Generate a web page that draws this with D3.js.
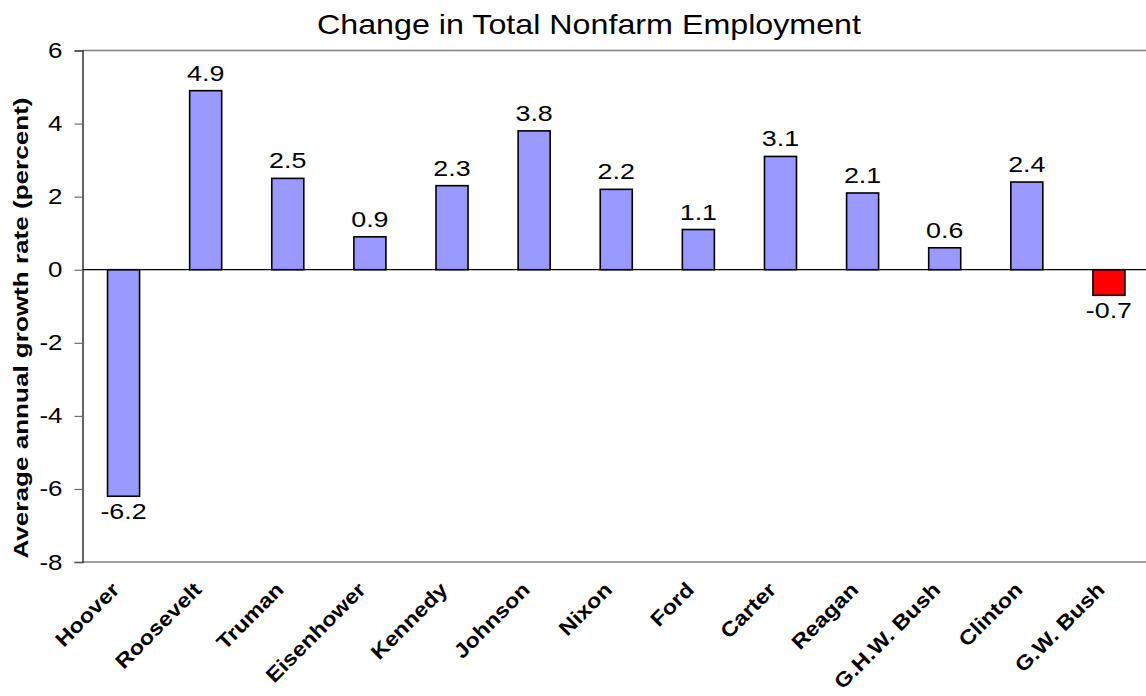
<!DOCTYPE html>
<html>
<head>
<meta charset="utf-8">
<script src="https://cdn.jsdelivr.net/npm/d3@7"></script>
<style>
  html, body { margin: 0; padding: 0; background: #fff; }
  svg { display: block; font-family: "Liberation Sans", Arial, sans-serif; }
</style>
</head>
<body>
<svg id="chart" width="1146" height="696"></svg>
<script>
const categories = ["Hoover", "Roosevelt", "Truman", "Eisenhower", "Kennedy", "Johnson", "Nixon", "Ford", "Carter", "Reagan", "G.H.W. Bush", "Clinton", "G.W. Bush"];
const values = [-6.2, 4.9, 2.5, 0.9, 2.3, 3.8, 2.2, 1.1, 3.1, 2.1, 0.6, 2.4, -0.7];
const valueLabels = ["-6.2", "4.9", "2.5", "0.9", "2.3", "3.8", "2.2", "1.1", "3.1", "2.1", "0.6", "2.4", "-0.7"];
const yTicks = [-8, -6, -4, -2, 0, 2, 4, 6];
const highlight = ["G.W. Bush"];
const title = "Change in Total Nonfarm Employment";
const yTitle = "Average annual growth rate (percent)";

const svg = d3.select("#chart");
const mLeft = 82.5, mRight = 1150, mTop = 50.5, mBottom = 562;

const x = d3.scaleBand().domain(categories).range([mLeft, mRight]).paddingInner(0.61).paddingOuter(0.305);
const y = d3.scaleLinear().domain([-8, 6]).range([mBottom, mTop]);

// widen text horizontally (reference glyphs are wider than Liberation Sans)
function stretch(sel, factor) {
  sel.each(function () {
    const len = this.getComputedTextLength();
    d3.select(this).attr("textLength", len * factor).attr("lengthAdjust", "spacingAndGlyphs");
  });
}

// frame lines (top & bottom)
svg.append("line").attr("x1", mLeft).attr("x2", 1146).attr("y1", mTop).attr("y2", mTop)
  .attr("stroke", "#808080").attr("stroke-width", 1.5);
svg.append("line").attr("x1", mLeft).attr("x2", 1146).attr("y1", mBottom).attr("y2", mBottom)
  .attr("stroke", "#808080").attr("stroke-width", 1.5);

// y axis
const yAxis = svg.append("g").attr("transform", `translate(${mLeft},0)`)
  .call(d3.axisLeft(y).tickValues(yTicks).tickSize(8).tickPadding(12).tickFormat(d => String(d)));
yAxis.select(".domain").attr("stroke", "#333").attr("stroke-width", 1.5);
yAxis.selectAll(".tick line").attr("stroke", "#555").attr("stroke-width", 1);
yAxis.selectAll(".tick text").attr("font-size", 22).attr("fill", "#000")
  .attr("font-family", "'Liberation Sans', Arial, sans-serif").call(stretch, 1.18);

// bars
svg.append("g").selectAll("rect").data(categories).join("rect")
  .attr("x", d => x(d))
  .attr("width", x.bandwidth())
  .attr("y", (d, i) => y(Math.max(0, values[i])))
  .attr("height", (d, i) => Math.abs(y(values[i]) - y(0)))
  .attr("fill", d => highlight.includes(d) ? "#FF0000" : "#9999FF")
  .attr("stroke", "#000").attr("stroke-width", 1.6);

// zero line
svg.append("line").attr("x1", mLeft).attr("x2", 1146).attr("y1", y(0)).attr("y2", y(0))
  .attr("stroke", "#000").attr("stroke-width", 1.2);

// value labels
svg.append("g").selectAll("text").data(categories).join("text")
  .attr("x", d => x(d) + x.bandwidth() / 2)
  .attr("y", (d, i) => values[i] >= 0 ? y(values[i]) - 10 : y(values[i]) + 23)
  .attr("text-anchor", "middle")
  .attr("font-size", 22)
  .attr("fill", "#000")
  .text((d, i) => valueLabels[i])
  .call(stretch, 1.22);

// category labels
svg.append("g").selectAll("text").data(categories).join("text")
  .attr("transform", d => `translate(${x(d) + x.bandwidth() / 2 - 3},${591}) rotate(-45)`)
  .attr("text-anchor", "end")
  .attr("font-size", 20.5)
  .attr("font-weight", "bold")
  .attr("fill", "#000")
  .text(d => d)
  .call(stretch, 1.14);

// title
svg.append("text").attr("x", 589).attr("y", 34).attr("text-anchor", "middle")
  .attr("font-size", 28).attr("fill", "#000").text(title)
  .attr("textLength", 544).attr("lengthAdjust", "spacingAndGlyphs");

// y title
svg.append("text").attr("transform", "translate(28,328) rotate(-90)")
  .attr("text-anchor", "middle").attr("font-size", 21).attr("font-weight", "bold")
  .attr("fill", "#000").text(yTitle)
  .attr("textLength", 461).attr("lengthAdjust", "spacingAndGlyphs");
</script>
</body>
</html>
